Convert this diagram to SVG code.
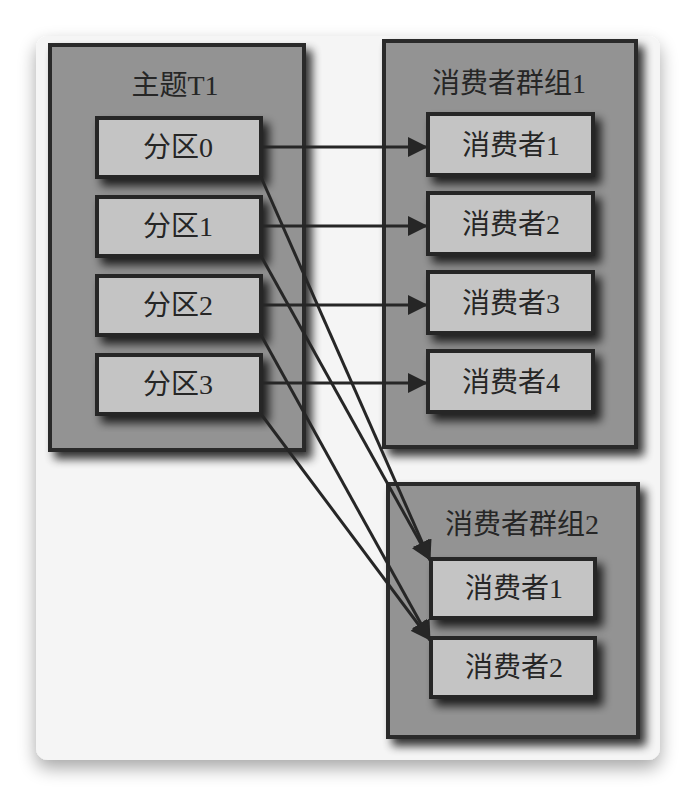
<svg xmlns="http://www.w3.org/2000/svg" width="696" height="796" viewBox="0 0 696 796">
  <defs>
    <filter id="cardShadow" x="-10%" y="-10%" width="120%" height="125%">
      <feGaussianBlur in="SourceAlpha" stdDeviation="9"/>
      <feOffset dx="0" dy="8" result="b"/>
      <feComponentTransfer><feFuncA type="linear" slope="0.35"/></feComponentTransfer>
      <feMerge><feMergeNode/><feMergeNode in="SourceGraphic"/></feMerge>
    </filter>
    <filter id="boxShadow" x="-20%" y="-20%" width="150%" height="150%">
      <feGaussianBlur in="SourceAlpha" stdDeviation="5"/>
      <feOffset dx="6" dy="7" result="b"/>
      <feComponentTransfer><feFuncA type="linear" slope="0.8"/></feComponentTransfer>
      <feMerge><feMergeNode/><feMergeNode in="SourceGraphic"/></feMerge>
    </filter>
    <marker id="arrow" viewBox="0 0 20 20" refX="19" refY="10" markerWidth="20" markerHeight="20" markerUnits="userSpaceOnUse" orient="auto">
      <path d="M0,0 L20,10 L0,20 Z" fill="#262626"/>
    </marker>
    <style>
      .outer { fill: #939393; stroke: #2a2a2a; stroke-width: 4; }
      .inner { fill: #c4c4c4; stroke: #262626; stroke-width: 4; }
      .t { font-family: "Liberation Serif", "Noto Sans CJK SC", serif; font-size: 28px; fill: #262626; text-anchor: middle; }
      .conn line { stroke: #262626; stroke-width: 3; fill: none; }
    </style>
  </defs>

  <rect x="0" y="0" width="696" height="796" fill="#ffffff"/>
  <rect x="36" y="36" width="624" height="724" rx="12" ry="12" fill="#f5f5f5" filter="url(#cardShadow)"/>

  <g id="topic-T1">
    <rect class="outer" x="50" y="45" width="254" height="405" filter="url(#boxShadow)"/>
    <text class="t" x="175" y="95">主题T1</text>
  </g>
  <g id="partition-0">
    <rect class="inner" x="97" y="118" width="164" height="59" filter="url(#boxShadow)"/>
    <text class="t" x="178" y="157">分区0</text>
  </g>
  <g id="partition-1">
    <rect class="inner" x="97" y="197" width="164" height="59" filter="url(#boxShadow)"/>
    <text class="t" x="178" y="236">分区1</text>
  </g>
  <g id="partition-2">
    <rect class="inner" x="97" y="276" width="164" height="59" filter="url(#boxShadow)"/>
    <text class="t" x="178" y="315">分区2</text>
  </g>
  <g id="partition-3">
    <rect class="inner" x="97" y="355" width="164" height="59" filter="url(#boxShadow)"/>
    <text class="t" x="178" y="394">分区3</text>
  </g>

  <g id="consumer-group-1">
    <rect class="outer" x="384" y="41" width="252" height="406" filter="url(#boxShadow)"/>
    <text class="t" x="509" y="93">消费者群组1</text>
  </g>
  <g id="g1-consumer-1">
    <rect class="inner" x="428" y="114" width="165" height="61" filter="url(#boxShadow)"/>
    <text class="t" x="511" y="155">消费者1</text>
  </g>
  <g id="g1-consumer-2">
    <rect class="inner" x="428" y="193" width="165" height="61" filter="url(#boxShadow)"/>
    <text class="t" x="511" y="234">消费者2</text>
  </g>
  <g id="g1-consumer-3">
    <rect class="inner" x="428" y="272" width="165" height="61" filter="url(#boxShadow)"/>
    <text class="t" x="511" y="313">消费者3</text>
  </g>
  <g id="g1-consumer-4">
    <rect class="inner" x="428" y="351" width="165" height="61" filter="url(#boxShadow)"/>
    <text class="t" x="511" y="392">消费者4</text>
  </g>

  <g id="consumer-group-2">
    <rect class="outer" x="388" y="484" width="250" height="253" filter="url(#boxShadow)"/>
    <text class="t" x="522" y="534">消费者群组2</text>
  </g>
  <g id="g2-consumer-1">
    <rect class="inner" x="431" y="559" width="164" height="59" filter="url(#boxShadow)"/>
    <text class="t" x="514" y="598">消费者1</text>
  </g>
  <g id="g2-consumer-2">
    <rect class="inner" x="431" y="638" width="164" height="59" filter="url(#boxShadow)"/>
    <text class="t" x="514" y="677">消费者2</text>
  </g>

  <g id="connectors" class="conn">
    <line x1="261" y1="147" x2="427" y2="147" marker-end="url(#arrow)"/>
    <line x1="261" y1="226" x2="427" y2="226" marker-end="url(#arrow)"/>
    <line x1="261" y1="305" x2="427" y2="305" marker-end="url(#arrow)"/>
    <line x1="261" y1="383" x2="427" y2="383" marker-end="url(#arrow)"/>
    <line x1="261" y1="177" x2="430" y2="560" marker-end="url(#arrow)"/>
    <line x1="261" y1="256" x2="430" y2="560" marker-end="url(#arrow)"/>
    <line x1="261" y1="335" x2="430" y2="640" marker-end="url(#arrow)"/>
    <line x1="261" y1="414" x2="430" y2="640" marker-end="url(#arrow)"/>
  </g>
</svg>
